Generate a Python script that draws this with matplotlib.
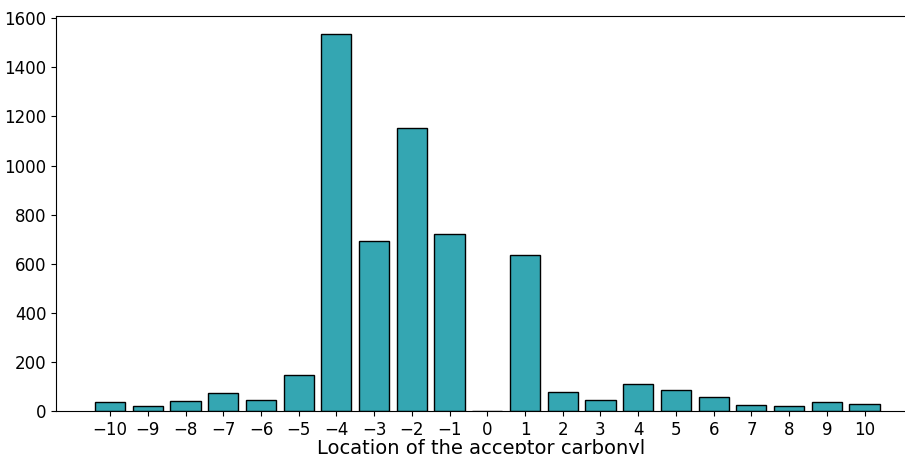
import matplotlib
matplotlib.use("Agg")
import matplotlib.pyplot as plt

positions = list(range(-10, 11))
counts = [36, 19, 40, 71, 44, 145, 1535, 692, 1154, 720, 0,
          634, 78, 46, 110, 85, 57, 23, 19, 36, 27]

fig = plt.figure(figsize=(9.05, 4.54), dpi=100)
ax = fig.add_axes([0.062, 0.095, 0.94, 0.87])
ax.bar(positions, counts, width=0.8, color="#34a6b2", edgecolor="black", linewidth=1)
ax.set_xticks(positions)
ax.set_xlim(-11.43, 11.12)
ax.set_ylim(0, 1610)
ax.set_yticks(range(0, 1601, 200))
ax.tick_params(labelsize=12)
ax.set_xlabel("Location of the acceptor carbonyl", fontsize=14, labelpad=0)

fig.savefig("out.png", dpi=100)
